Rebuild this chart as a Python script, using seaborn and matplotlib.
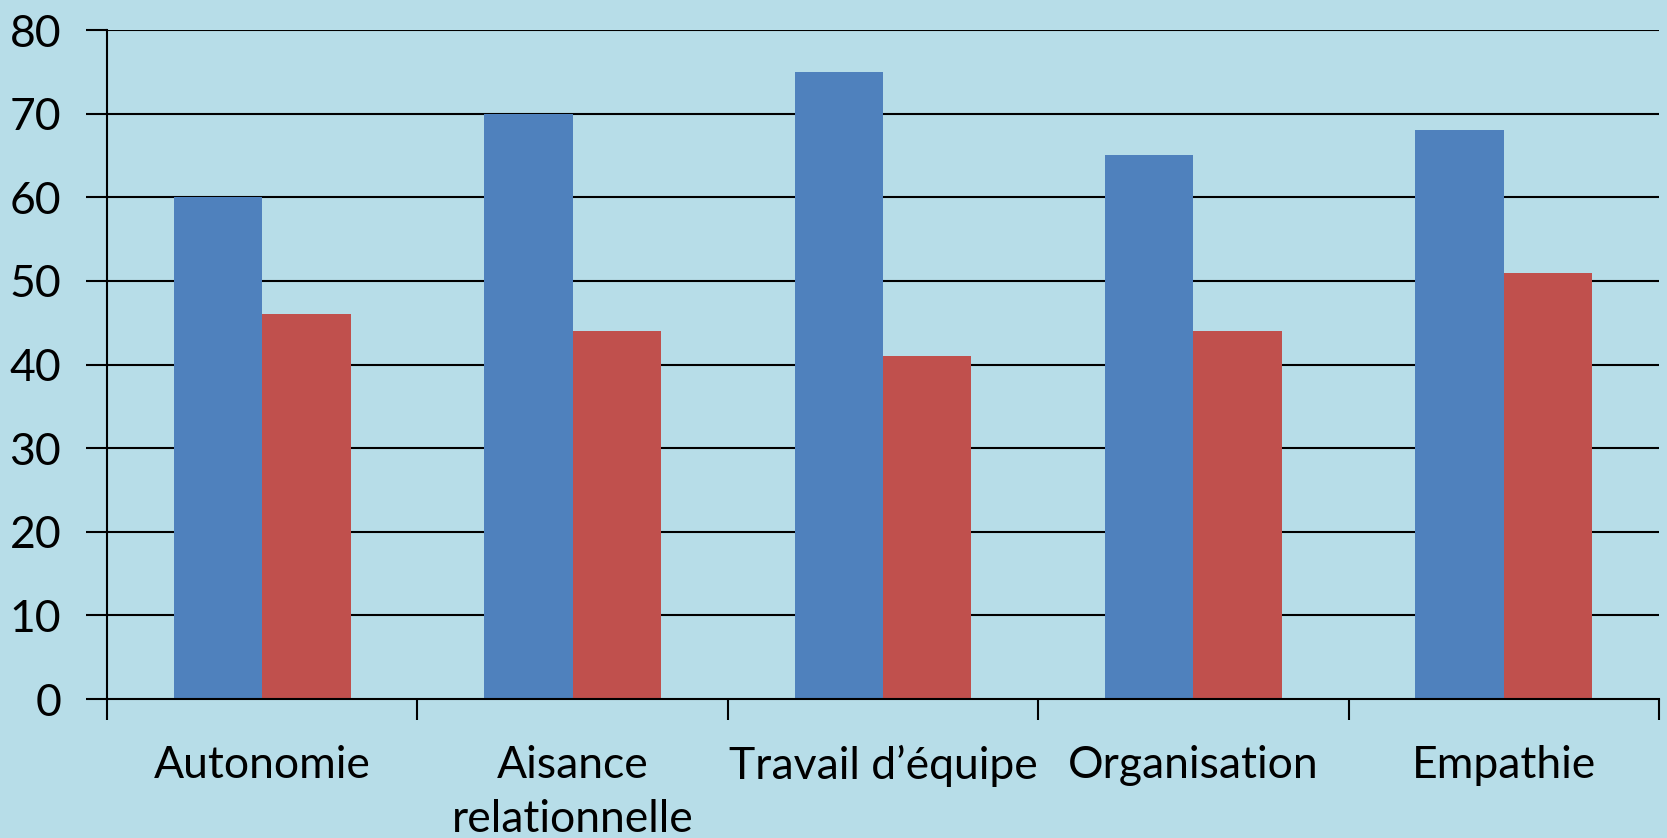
import matplotlib
matplotlib.use("Agg")
import matplotlib.pyplot as plt
import seaborn as sns
import pandas as pd
import numpy as np
from matplotlib.ticker import FixedLocator

categories = ["Autonomie", "Aisance\nrelationnelle", "Travail d\u2019équipe", "Organisation", "Empathie"]
series_names = ["Série 1", "Série 2"]
values_1 = [60, 70, 75, 65, 68]
values_2 = [46, 44, 41, 44, 51]
yticks = [0, 10, 20, 30, 40, 50, 60, 70, 80]

bg = "#b7dde8"
colors = ["#4f81bd", "#c0504d"]

df = pd.DataFrame({
    "cat": categories * 2,
    "serie": [series_names[0]] * 5 + [series_names[1]] * 5,
    "val": values_1 + values_2,
})

sns.set_theme(style="white")
plt.rcParams["font.family"] = ["Lato", "DejaVu Sans"]

fig = plt.figure(figsize=(16.67, 8.38), dpi=100)
fig.patch.set_facecolor(bg)
ax = fig.add_axes([107/1667, 1 - 699/838, (1659-107)/1667, (699-30)/838])
ax.set_facecolor(bg)

sns.barplot(data=df, x="cat", y="val", hue="serie", palette=colors, width=0.57,
            gap=0, saturation=1, linewidth=0, ax=ax, legend=False, zorder=3)

ax.set_xlim(-0.5, 4.5)
ax.set_ylim(0, 80)
ax.set_yticks(yticks)
ax.set_xlabel("")
ax.set_ylabel("")

for y in yticks[1:]:
    ax.axhline(y, color="black", lw=1.5, zorder=1)

ax.xaxis.set_major_locator(FixedLocator(np.arange(-0.5, 5.0, 1.0)))
ax.xaxis.set_minor_locator(FixedLocator(np.arange(5)))
ax.set_xticklabels([], minor=False)
ax.set_xticklabels(categories, minor=True)
ax.tick_params(axis="x", which="major", direction="out", length=15, width=1.5, color="black", bottom=True)
ax.tick_params(axis="x", which="minor", length=0, pad=33, labelsize=32, labelcolor="black", bottom=True)
ax.tick_params(axis="y", which="major", direction="out", length=15, width=1.5, color="black",
               left=True, pad=18, labelsize=32, labelcolor="black")
for lab in ax.get_xticklabels(minor=True):
    lab.set_linespacing(1.4)

for s in ["top", "right"]:
    ax.spines[s].set_visible(False)
for s in ["left", "bottom"]:
    ax.spines[s].set_visible(True)
    ax.spines[s].set_color("black")
    ax.spines[s].set_linewidth(1.5)
    ax.spines[s].set_zorder(4)

fig.savefig("out.png", dpi=100, facecolor=bg)
